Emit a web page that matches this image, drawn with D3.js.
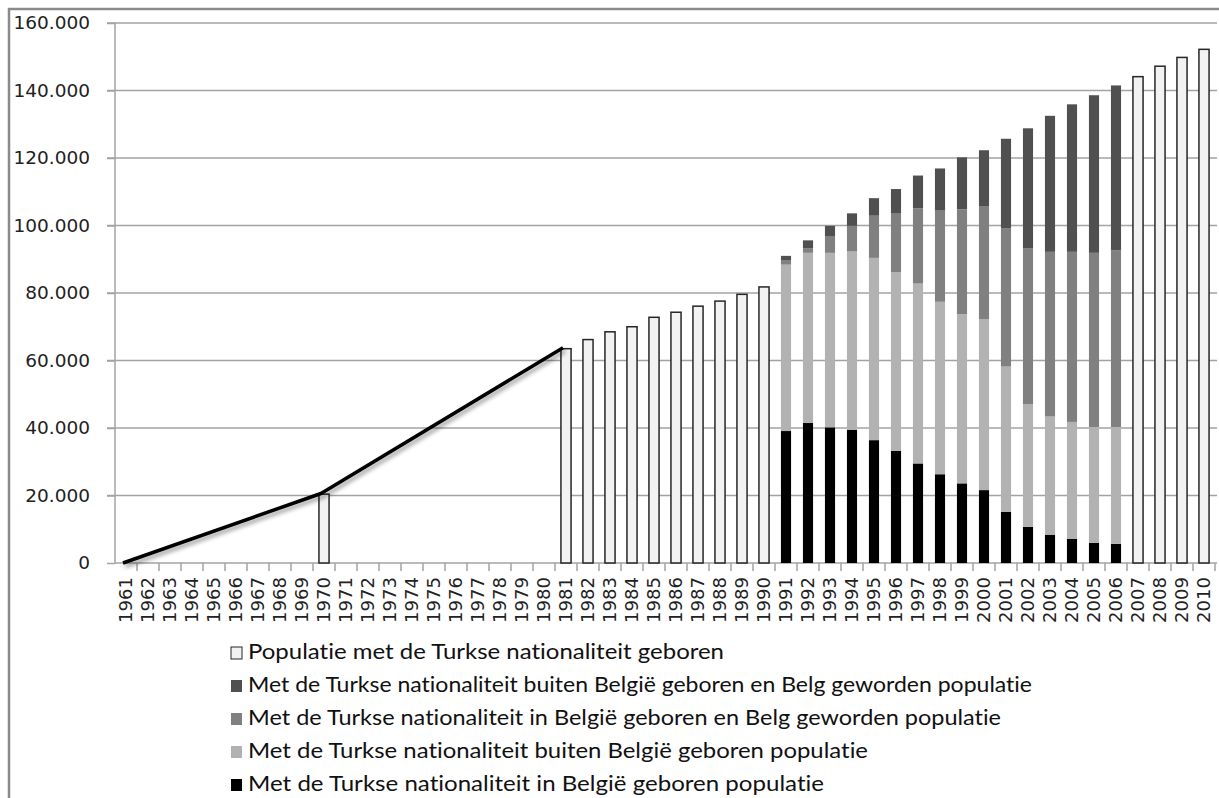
<!DOCTYPE html>
<html>
<head>
<meta charset="utf-8">
<script src="https://cdn.jsdelivr.net/npm/d3@7"></script>
<style>
  html, body { margin: 0; padding: 0; background: #fff; }
  svg { display: block; }
  text { font-variant-ligatures: none; font-feature-settings: "liga" 0; }
</style>
</head>
<body>
<svg id="chart" width="1219" height="798"></svg>
<script>
// ---------- DATA ----------
const years = ["1961","1962","1963","1964","1965","1966","1967","1968","1969","1970",
  "1971","1972","1973","1974","1975","1976","1977","1978","1979","1980",
  "1981","1982","1983","1984","1985","1986","1987","1988","1989","1990",
  "1991","1992","1993","1994","1995","1996","1997","1998","1999","2000",
  "2001","2002","2003","2004","2005","2006","2007","2008","2009","2010"];

// Total population with Turkish nationality at birth (white bars)
const totalYears  = ["1970","1981","1982","1983","1984","1985","1986","1987","1988","1989","1990","2007","2008","2009","2010"];
const totalValues = [20400, 63500, 66200, 68500, 70000, 72800, 74300, 76100, 77600, 79600, 81800, 144100, 147200, 149800, 152200];

// Connecting line (1961 - 1970 - 1981)
const lineYears  = ["1961","1970","1981"];
const lineValues = [0, 20600, 63800];

// Stacked years
const stackYears = ["1991","1992","1993","1994","1995","1996","1997","1998","1999","2000","2001","2002","2003","2004","2005","2006"];
const inBelgiumTurkish  = [39100, 41500, 40200, 39500, 36400, 33200, 29500, 26300, 23600, 21600, 15200, 10700, 8400, 7200, 6000, 5700];
const outBelgiumTurkish = [49300, 50400, 51700, 52800, 54000, 53000, 53300, 51100, 50100, 50600, 43000, 36400, 35000, 34600, 34300, 34600];
const inBelgiumBelg     = [1200, 1400, 4800, 7600, 12500, 17500, 22300, 27000, 31100, 33400, 40900, 46200, 48800, 50400, 51600, 52300];
const outBelgiumBelg    = [1400, 2300, 3200, 3700, 5200, 7100, 9700, 12500, 15400, 16700, 26600, 35500, 40300, 43700, 46700, 48900];

const yTicks = [0, 20000, 40000, 60000, 80000, 100000, 120000, 140000, 160000];

const legendLabels = [
  "Populatie met de Turkse nationaliteit geboren",
  "Met de Turkse nationaliteit buiten België geboren en Belg geworden populatie",
  "Met de Turkse nationaliteit in België geboren en Belg geworden populatie",
  "Met de Turkse nationaliteit buiten België geboren populatie",
  "Met de Turkse nationaliteit in België geboren populatie"
];

// ---------- STYLE ----------
const colWhite = "#f2f2f2", colDark = "#505050", colMid = "#808080", colLight = "#b2b2b2", colBlack = "#000000";
const gridCol = "#a3a3a3";
const legendTextWidths = [476, 784, 753, 620, 576];

const svg = d3.select("#chart");

const defs = svg.append("defs");
const f = defs.append("filter").attr("id", "shadow").attr("x", "-10%").attr("y", "-10%").attr("width", "130%").attr("height", "150%");
f.append("feDropShadow").attr("dx", 2).attr("dy", 3).attr("stdDeviation", 2).attr("flood-color", "#000").attr("flood-opacity", 0.4);

// outer frame
svg.append("path").attr("d", "M9,798 L9,9 L1219,9").attr("fill", "none").attr("stroke", "#8a8a8a").attr("stroke-width", 2.5);

// ---------- SCALES ----------
const x = d3.scaleBand().domain(years).range([115, 1215]).paddingInner(0.54).paddingOuter(0.27);
const y = d3.scaleLinear().domain([0, 160000]).range([563, 23]);

const nl = d3.formatLocale({decimal: ",", thousands: ".", grouping: [3], currency: ["", ""]});
const fmt = nl.format(",d");

// gridlines
svg.append("g").selectAll("line").data(yTicks.filter(d => d > 0)).join("line")
  .attr("x1", 107).attr("x2", 1217)
  .attr("y1", d => y(d)).attr("y2", d => y(d))
  .attr("stroke", gridCol).attr("stroke-width", 1.5);

// y axis
const yAxis = svg.append("g").attr("transform", "translate(115,0)")
  .call(d3.axisLeft(y).tickValues(yTicks).tickFormat(fmt).tickSize(8).tickPadding(17));
yAxis.select(".domain").attr("stroke", gridCol).attr("stroke-width", 1.5).attr("d", "M0,23V563");
yAxis.selectAll(".tick line").attr("stroke", gridCol).attr("stroke-width", 1.5);
yAxis.selectAll(".tick text").attr("font-family", "DejaVu Sans, sans-serif").attr("font-size", 18.5).attr("fill", "#222");

// x axis
const step = x.step();
svg.append("line").attr("x1", 115).attr("x2", 1217).attr("y1", y(0)).attr("y2", y(0))
  .attr("stroke", gridCol).attr("stroke-width", 1.5);
svg.append("g").selectAll("line").data(years).join("line")
  .attr("x1", d => x(d) + x.bandwidth() / 2 + step / 2)
  .attr("x2", d => x(d) + x.bandwidth() / 2 + step / 2)
  .attr("y1", y(0)).attr("y2", y(0) + 8)
  .attr("stroke", gridCol).attr("stroke-width", 1.5);
svg.append("g").selectAll("text").data(years).join("text")
  .attr("transform", d => `translate(${x(d) + x.bandwidth() / 2 + 6},577) rotate(-90)`)
  .attr("text-anchor", "end")
  .attr("font-family", "DejaVu Sans, sans-serif").attr("font-size", 17)
  .attr("textLength", 46).attr("lengthAdjust", "spacingAndGlyphs")
  .attr("fill", "#222")
  .text(d => d);

// white bars
svg.append("g").selectAll("rect").data(totalYears.map((d, i) => ({year: d, v: totalValues[i]}))).join("rect")
  .attr("x", d => x(d.year)).attr("width", x.bandwidth())
  .attr("y", d => y(d.v)).attr("height", d => y(0) - y(d.v))
  .attr("fill", colWhite).attr("stroke", "#262626").attr("stroke-width", 1.5);

// stacked bars
const stackRows = stackYears.map((d, i) => ({
  year: d, black: inBelgiumTurkish[i], light: outBelgiumTurkish[i], mid: inBelgiumBelg[i], dark: outBelgiumBelg[i]
}));
const keys = ["black", "light", "mid", "dark"];
const colors = {black: colBlack, light: colLight, mid: colMid, dark: colDark};
const stacked = d3.stack().keys(keys)(stackRows);
svg.append("g").selectAll("g").data(stacked).join("g")
  .attr("fill", d => colors[d.key])
  .selectAll("rect").data(d => d).join("rect")
  .attr("x", d => x(d.data.year)).attr("width", x.bandwidth())
  .attr("y", d => y(d[1])).attr("height", d => y(d[0]) - y(d[1]));

// line
const lineData = lineYears.map((d, i) => ({year: d, v: lineValues[i]}));
svg.append("path").datum(lineData)
  .attr("d", d3.line().x(d => x(d.year) + x.bandwidth() / 2 - 3).y(d => y(d.v)))
  .attr("fill", "none").attr("stroke", "#000").attr("stroke-width", 3.5)
  .attr("stroke-linejoin", "round")
  .attr("filter", "url(#shadow)");

// ---------- LEGEND ----------
const legendFills = [colWhite, colDark, colMid, colLight, colBlack];
const lg = svg.append("g");
const rows = lg.selectAll("g").data(legendLabels).join("g")
  .attr("transform", (d, i) => `translate(231,${647 + i * 33})`);
rows.append("rect").attr("width", 11).attr("height", 12)
  .attr("fill", (d, i) => legendFills[i])
  .attr("stroke", (d, i) => i === 0 ? "#262626" : "none").attr("stroke-width", 1);
rows.append("text").attr("x", 17).attr("y", 12)
  .attr("font-family", "Lato, 'Open Sans', sans-serif").attr("font-size", 20.5).attr("fill", "#111")
  .attr("textLength", (d, i) => legendTextWidths[i]).attr("lengthAdjust", "spacingAndGlyphs")
  .text(d => d);
</script>
</body>
</html>
